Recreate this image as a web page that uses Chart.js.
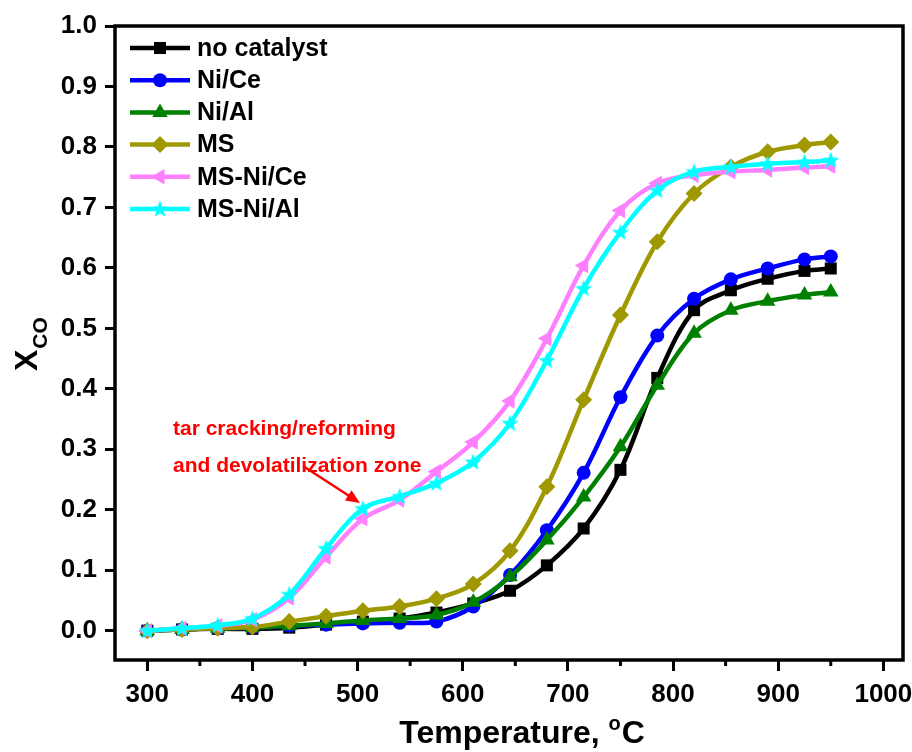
<!DOCTYPE html>
<html>
<head>
<meta charset="utf-8">
<script src="https://cdn.jsdelivr.net/npm/chart.js@4.4.0/dist/chart.umd.min.js"></script>
<style>
	body { margin: 0; background: #fff; }
	#wrap { width: 912px; height: 752px; }
</style>
</head>
<body>
<div id="wrap"><canvas id="xco-chart" width="912" height="752"></canvas></div>
<script>
// Temperature (°C)
const temps = [300, 333, 367, 400, 435, 470, 505, 540, 575, 610, 645, 680, 715, 750, 785, 820, 855, 890, 925, 950];

// X_CO per run
const noCatalyst = [0, 0.002, 0.003, 0.003, 0.005, 0.010, 0.015, 0.020, 0.030, 0.045, 0.066, 0.108, 0.169, 0.266, 0.418, 0.530, 0.563, 0.582, 0.595, 0.599];
const niCe = [0, 0.002, 0.004, 0.005, 0.008, 0.010, 0.012, 0.013, 0.015, 0.040, 0.092, 0.166, 0.261, 0.386, 0.488, 0.549, 0.581, 0.599, 0.614, 0.619];
const niAl = [0, 0.002, 0.004, 0.005, 0.008, 0.012, 0.017, 0.020, 0.026, 0.047, 0.089, 0.150, 0.221, 0.304, 0.406, 0.492, 0.530, 0.545, 0.555, 0.560];
const ms = [0, 0.002, 0.004, 0.006, 0.015, 0.024, 0.033, 0.040, 0.053, 0.077, 0.132, 0.238, 0.382, 0.522, 0.643, 0.723, 0.767, 0.792, 0.803, 0.808];
const msNiCe = [0, 0.004, 0.008, 0.018, 0.054, 0.122, 0.185, 0.216, 0.263, 0.312, 0.380, 0.483, 0.604, 0.695, 0.740, 0.753, 0.759, 0.762, 0.766, 0.768];
const msNiAl = [0, 0.004, 0.009, 0.020, 0.060, 0.136, 0.202, 0.222, 0.244, 0.279, 0.343, 0.447, 0.566, 0.659, 0.728, 0.759, 0.767, 0.772, 0.775, 0.778];

const seriesLabels = ['no catalyst', 'Ni/Ce', 'Ni/Al', 'MS', 'MS-Ni/Ce', 'MS-Ni/Al'];
const xTicks = [300, 400, 500, 600, 700, 800, 900, 1000];
const xMinorTicks = [350, 450, 550, 650, 750, 850, 950];
const yTicks = [0, 0.1, 0.2, 0.3, 0.4, 0.5, 0.6, 0.7, 0.8, 0.9, 1.0];

const FONT = '"Liberation Sans", Arial, sans-serif';

/* Filled five point star used as marker */
function makeStar(color) {
	const c = document.createElement('canvas');
	c.width = 20;
	c.height = 20;
	const g = c.getContext('2d');
	g.beginPath();
	for (let i = 0; i < 10; i++) {
		const r = i % 2 === 0 ? 9 : 3.8;
		const a = -Math.PI / 2 + i * Math.PI / 5;
		const px = 10 + r * Math.cos(a);
		const py = 10.5 + r * Math.sin(a);
		if (i === 0) g.moveTo(px, py); else g.lineTo(px, py);
	}
	g.closePath();
	g.fillStyle = color;
	g.fill();
	return c;
}

const styles = [
	{ color: '#000000', pointStyle: 'rect', radius: 8.5, rotation: 0 },
	{ color: '#0000ff', pointStyle: 'circle', radius: 7, rotation: 0 },
	{ color: '#008000', pointStyle: 'triangle', radius: 9, rotation: 0 },
	{ color: '#a09800', pointStyle: 'rectRot', radius: 8.5, rotation: 0 },
	{ color: '#ff80ff', pointStyle: 'triangle', radius: 9, rotation: -90 },
	{ color: '#00ffff', pointStyle: makeStar('#00ffff'), radius: 9, rotation: 0 }
];

const allSeries = [noCatalyst, niCe, niAl, ms, msNiCe, msNiAl];

const datasets = allSeries.map((values, i) => ({
	label: seriesLabels[i],
	data: values.map((v, k) => ({ x: temps[k], y: v })),
	borderColor: styles[i].color,
	backgroundColor: styles[i].color,
	borderWidth: 4.5,
	pointStyle: styles[i].pointStyle,
	pointRadius: styles[i].radius,
	pointRotation: styles[i].rotation,
	pointBorderWidth: 0,
	pointHoverRadius: styles[i].radius,
	tension: 0.35,
	order: allSeries.length - i
}));

/* Frame, minor ticks, titles, legend and note */
const decorations = {
	id: 'decorations',
	beforeDatasetsDraw(chart) {
		const { ctx, chartArea: a, scales } = chart;
		ctx.save();
		ctx.strokeStyle = '#000';
		ctx.lineWidth = 3.5;
		ctx.strokeRect(a.left, a.top, a.right - a.left, a.bottom - a.top);
		// minor ticks on x axis
		ctx.lineWidth = 3;
		xMinorTicks.forEach(v => {
			const px = scales.x.getPixelForValue(v);
			ctx.beginPath();
			ctx.moveTo(px, a.bottom);
			ctx.lineTo(px, a.bottom + 6);
			ctx.stroke();
		});
		ctx.restore();
	},
	afterDraw(chart) {
		const { ctx } = chart;
		ctx.save();
		ctx.fillStyle = '#000';
		ctx.textBaseline = 'alphabetic';

		// x title with superscript o
		const main = 'Temperature, ';
		ctx.font = 'bold 32px ' + FONT;
		const w1 = ctx.measureText(main).width;
		const wC = ctx.measureText('C').width;
		ctx.font = 'bold 20px ' + FONT;
		const wo = ctx.measureText('o').width;
		let x0 = 522 - (w1 + wo + wC + 1) / 2;
		ctx.font = 'bold 32px ' + FONT;
		ctx.fillText(main, x0, 743);
		ctx.font = 'bold 20px ' + FONT;
		ctx.fillText('o', x0 + w1, 730);
		ctx.font = 'bold 32px ' + FONT;
		ctx.fillText('C', x0 + w1 + wo + 1, 743);

		// y title X with subscript CO
		ctx.save();
		ctx.translate(37, 371);
		ctx.rotate(-Math.PI / 2);
		ctx.font = 'bold 32px ' + FONT;
		ctx.fillText('X', 0, 0);
		const wx = ctx.measureText('X').width;
		ctx.font = 'bold 21px ' + FONT;
		ctx.fillText('CO', wx + 1, 10);
		ctx.restore();

		// legend
		datasets.forEach((ds, i) => {
			const y = 48 + 32.2 * i;
			ctx.strokeStyle = ds.borderColor;
			ctx.lineWidth = 4.5;
			ctx.beginPath();
			ctx.moveTo(130, y);
			ctx.lineTo(190, y);
			ctx.stroke();
			ctx.fillStyle = ds.backgroundColor;
			Chart.helpers.drawPoint(ctx, {
				pointStyle: ds.pointStyle,
				radius: ds.pointRadius,
				rotation: ds.pointRotation,
				borderWidth: 0
			}, 160, y);
			ctx.fillStyle = '#000';
			ctx.font = 'bold 25px ' + FONT;
			ctx.textBaseline = 'middle';
			ctx.fillText(ds.label, 197, y + 1);
			ctx.textBaseline = 'alphabetic';
		});

		// annotation
		ctx.fillStyle = '#ff0000';
		ctx.font = 'bold 21px ' + FONT;
		ctx.fillText('tar cracking/reforming', 173, 435);
		ctx.fillText('and devolatilization zone', 173, 472);
		ctx.strokeStyle = '#ff0000';
		ctx.lineWidth = 2.5;
		const ax = 303, ay = 466, bx = 360, by = 503;
		const ang = Math.atan2(by - ay, bx - ax);
		ctx.beginPath();
		ctx.moveTo(ax, ay);
		ctx.lineTo(bx - 10 * Math.cos(ang), by - 10 * Math.sin(ang));
		ctx.stroke();
		ctx.beginPath();
		ctx.moveTo(bx, by);
		ctx.lineTo(bx - 14 * Math.cos(ang) + 6 * Math.sin(ang), by - 14 * Math.sin(ang) - 6 * Math.cos(ang));
		ctx.lineTo(bx - 14 * Math.cos(ang) - 6 * Math.sin(ang), by - 14 * Math.sin(ang) + 6 * Math.cos(ang));
		ctx.closePath();
		ctx.fill();
		ctx.restore();
	}
};

new Chart(document.getElementById('xco-chart'), {
	type: 'line',
	data: { datasets: datasets },
	options: {
		responsive: false,
		animation: false,
		events: [],
		layout: { padding: { top: 26, right: 9, left: 0, bottom: 0 } },
		plugins: {
			legend: { display: false },
			tooltip: { enabled: false }
		},
		scales: {
			x: {
				type: 'linear',
				min: 269.3,
				max: 1018.7,
				afterBuildTicks: scale => { scale.ticks = xTicks.map(v => ({ value: v })); },
				afterFit: scale => {
					scale.height = 92;
					// labels may overhang, keep the plot width fixed
					scale.paddingLeft = 0;
					scale.paddingRight = 0;
				},
				border: { display: false },
				grid: { drawOnChartArea: false, drawTicks: true, tickLength: 11, lineWidth: 3, color: '#000' },
				ticks: {
					color: '#000',
					padding: 8,
					maxRotation: 0,
					font: { family: FONT, size: 26, weight: 'bold' },
					callback: value => String(value)
				}
			},
			y: {
				type: 'linear',
				min: -0.0485,
				max: 1.0,
				afterBuildTicks: scale => { scale.ticks = yTicks.map(v => ({ value: v })); },
				afterFit: scale => {
					scale.width = 115;
					scale.paddingTop = 0;
					scale.paddingBottom = 0;
				},
				border: { display: false },
				grid: { drawOnChartArea: false, drawTicks: true, tickLength: 10, lineWidth: 3, color: '#000' },
				ticks: {
					color: '#000',
					padding: 8,
					font: { family: FONT, size: 26, weight: 'bold' },
					callback: value => value.toFixed(1)
				}
			}
		}
	},
	plugins: [decorations]
});
</script>
</body>
</html>
